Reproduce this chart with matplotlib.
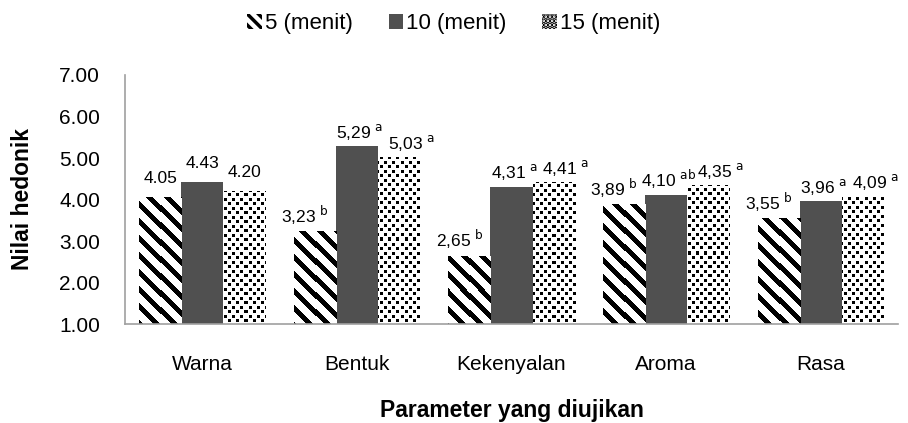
import matplotlib
matplotlib.use("Agg")
import matplotlib.pyplot as plt
from matplotlib.patches import Patch
import numpy as np

plt.rcParams['font.family'] = ['Liberation Sans', 'DejaVu Sans']

categories = ["Warna", "Bentuk", "Kekenyalan", "Aroma", "Rasa"]
series_names = ["5 (menit)", "10 (menit)", "15 (menit)"]
values_5 = [4.05, 3.23, 2.65, 3.89, 3.55]
values_10 = [4.43, 5.29, 4.31, 4.10, 3.96]
values_15 = [4.20, 5.03, 4.41, 4.35, 4.09]
letters_5 = ["", "b", "b", "b", "b"]
letters_10 = ["", "a", "a", "ab", "a"]
letters_15 = ["", "a", "a", "a", "a"]
yticks = [1.0, 2.0, 3.0, 4.0, 5.0, 6.0, 7.0]

DPI = 100
fig = plt.figure(figsize=(9.08, 4.23), dpi=DPI)
ax = fig.add_axes([125/908, 1-324/423, (898-125)/908, (324-75)/423])
ax.set_ylim(1, 7)
ax.set_xlim(-0.5, len(categories) - 0.5)

DARK = "#505050"


def texture(kind, px0, py0, w, h):
    """Black/white fill pattern anchored to absolute figure pixels."""
    yy, xx = np.mgrid[0:h, 0:w]
    xx = xx + px0
    yy = yy + py0
    if kind == "stripes":
        black = ((xx - yy) % 17) < 7
    else:
        tx = xx % 8
        ty = yy % 9
        black = ((ty < 3) & (tx < 3)) | ((ty >= 4) & (ty < 7) & (tx >= 4) & (tx < 7))
    img = np.ones((h, w, 3))
    img[black] = 0.0
    return img


def fill_bars(bars, kind):
    fig_h = fig.get_size_inches()[1] * DPI
    for b in bars:
        x0, y0 = b.get_x(), b.get_y()
        x1, y1 = x0 + b.get_width(), y0 + b.get_height()
        (p0x, p0y), (p1x, p1y) = ax.transData.transform([(x0, y0), (x1, y1)])
        w = max(int(round(p1x - p0x)), 1)
        h = max(int(round(p1y - p0y)), 1)
        top = int(round(fig_h - p1y))
        img = texture(kind, int(round(p0x)), top, w, h)
        im = ax.imshow(img, extent=(x0, x1, y0, y1), origin="upper",
                       interpolation="nearest", aspect="auto", zorder=2)
        im.set_clip_path(b)


x = np.arange(len(categories))
w = 0.272
series = [values_5, values_10, values_15]
letters = [letters_5, letters_10, letters_15]
kinds = ["stripes", None, "dots"]
label_dx = [-7, 2, 9]   # horizontal nudge (points) of lettered labels per series

for i, vals in enumerate(series):
    face = DARK if kinds[i] is None else "white"
    bars = ax.bar(x + (i - 1) * w, np.array(vals) - 1.0, bottom=1.0, width=w,
                  color=face, linewidth=0, zorder=1)
    if kinds[i] is not None:
        fill_bars(bars, kinds[i])
    for j, (b, v) in enumerate(zip(bars, vals)):
        cx = b.get_x() + b.get_width() / 2
        if letters[i][j]:
            txt = f"{v:.2f}".replace(".", ",") + r" $^{\mathrm{" + letters[i][j] + "}}$"
            off = (label_dx[i], 3)
        else:
            txt = f"{v:.2f}"
            off = (0, 8)
        ax.annotate(txt, (cx, v), xytext=off, textcoords="offset points",
                    ha="center", va="bottom", fontsize=12.5, zorder=4)

ax.set_ylim(1, 7)
ax.set_xlim(-0.5, len(categories) - 0.5)
ax.set_yticks(yticks)
ax.set_yticklabels([f"{t:.2f}" for t in yticks], fontsize=15)
ax.set_xticks(x)
ax.set_xticklabels(categories, fontsize=15)
ax.tick_params(length=0)
ax.tick_params(axis="y", pad=18)
ax.tick_params(axis="x", pad=22)
for s in ["top", "right"]:
    ax.spines[s].set_visible(False)
for s in ["left", "bottom"]:
    ax.spines[s].set_color("#a0a0a0")
    ax.spines[s].set_linewidth(1.2)
    ax.spines[s].set_zorder(3)

ax.set_ylabel("Nilai hedonik", fontsize=16.5, fontweight="bold", labelpad=18)
ax.set_xlabel("Parameter yang diujikan", fontsize=16.5, fontweight="bold", labelpad=18)

plt.rcParams['hatch.linewidth'] = 2.5
plt.rcParams['hatch.color'] = "black"
handles = [
    Patch(facecolor="white", edgecolor="black", linewidth=0, hatch="\\\\\\", label=series_names[0]),
    Patch(facecolor=DARK, edgecolor=DARK, linewidth=0, label=series_names[1]),
    Patch(facecolor="white", edgecolor="black", linewidth=0, hatch="....", label=series_names[2]),
]
fig.legend(handles=handles, loc="upper center", bbox_to_anchor=(0.5, 1.0), ncol=3,
           frameon=False, fontsize=16, handlelength=0.65, handleheight=0.65,
           handletextpad=0.15, columnspacing=1.6, borderaxespad=0.2)

fig.savefig("out.png", dpi=DPI)
